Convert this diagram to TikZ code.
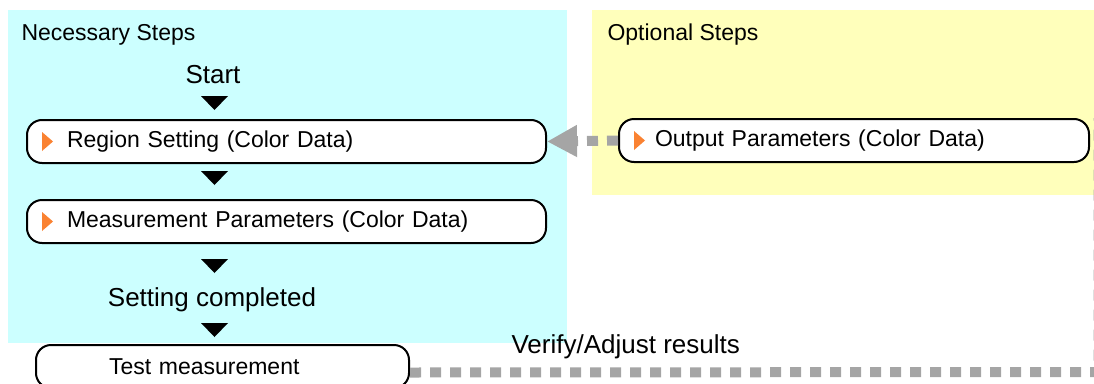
\documentclass[tikz,border=0pt]{standalone}
\usepackage{fontspec}
\setmainfont{Liberation Sans}
\usetikzlibrary{arrows.meta}

\definecolor{necbg}{RGB}{204,255,255}
\definecolor{optbg}{RGB}{255,255,187}
\definecolor{dotgray}{RGB}{165,165,165}
\definecolor{markorange}{RGB}{250,130,50}

\newcommand{\boxfont}{\fontsize{23}{27}\selectfont}
\newcommand{\bigfont}{\fontsize{26}{30}\selectfont}
% small orange play mark at the left end of a step box
\newcommand{\stepmark}[1]{\fill[markorange] ([xshift=16pt,yshift=9.5pt]#1.west) -- ++(11pt,-9.5pt) -- ++(-11pt,-9.5pt) -- cycle;}

\tikzset{
  panel/.style={anchor=north west,inner sep=0pt,outer sep=0pt},
  stepbox/.style={draw,line width=2pt,rounded corners=15pt,fill=white,minimum height=43pt,
    inner xsep=40pt,inner ysep=0pt,align=left,font=\boxfont,anchor=north west},
  flowtri/.style={fill=black},
  graydots/.style={dotgray,line width=10pt,dash pattern=on 11pt off 9pt},
}

\begin{document}
\begin{tikzpicture}[x=1pt,y=-1pt]
  \useasboundingbox (0,0) rectangle (1094,383);
  % panels
  \node[panel,fill=necbg,minimum width=559pt,minimum height=333pt] (necessary) at (8,10) {};
  \node[panel,fill=optbg,minimum width=502pt,minimum height=185pt] (optional) at (592,10) {};
  \node[anchor=base west,font=\boxfont] (necesstitle) at (18,40) {Necessary Steps};
  \node[anchor=base west,font=\boxfont] (optiontitle) at (604,40) {Optional Steps};

  % main flow
  \node[anchor=base,font=\bigfont] (start) at (213,83) {Start};
  \node[stepbox,text width=439pt] (region) at (26,119) {Region Setting (Color Data)};
  \node[stepbox,text width=439pt] (measure) at (26,199) {Measurement Parameters (Color Data)};
  \node[anchor=base,font=\bigfont] (done) at (212,306) {Setting completed};
  \node[stepbox,inner xsep=73pt,text width=227pt] (test) at (35,344) {Test measurement};
  \foreach \ty in {96,171,259,323}
    \fill[flowtri] (201,\ty) -- (228,\ty) -- (214.5,\ty+14) -- cycle;

  % optional step
  \node[stepbox,inner xsep=36pt,text width=398pt] (output) at (618,118) {Output Parameters (Color Data)};
  \stepmark{region}
  \stepmark{measure}
  \stepmark{output}

  % connectors
  \draw[graydots,-{Triangle[length=30pt,width=30pt]}] (output.west) -- (region.east);
  \coordinate (turn) at (1098.5,372);
  \draw[graydots] ([yshift=-6pt]test.east) -- (turn) -- (turn |- output.north);
  \node[anchor=base west,font=\bigfont] (verifylbl) at (508,353) {Verify/Adjust results};
\end{tikzpicture}
\end{document}
